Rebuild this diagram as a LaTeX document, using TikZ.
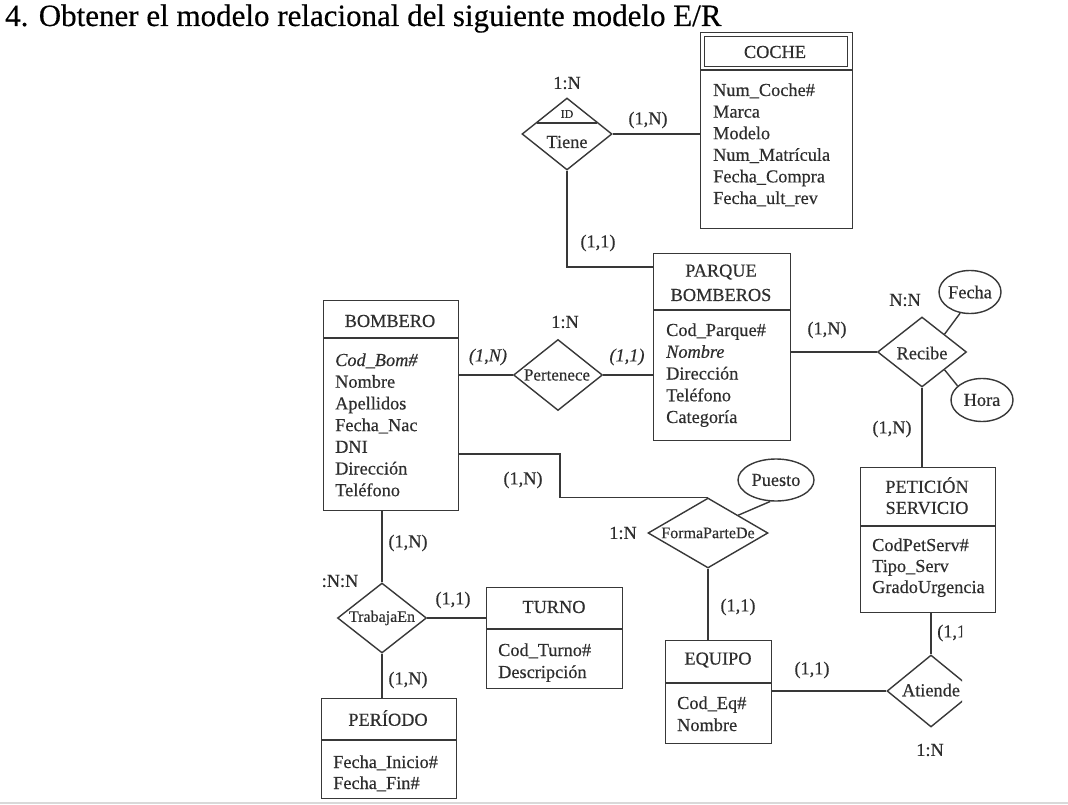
\documentclass[tikz,border=0pt]{standalone}
\usepackage{fontspec}
\setmainfont{Liberation Serif}[FakeBold=0.4]
\usetikzlibrary{shapes.geometric}
\begin{document}
\begin{tikzpicture}[x=1pt,y=-1pt,
  line/.style={draw=black!78, line width=1.4pt},
  ebox/.style={line, rectangle, inner sep=0pt, anchor=north west},
  rel/.style={line, diamond, inner sep=0pt},
  attel/.style={line, ellipse, inner sep=0pt},
  txt/.style={text=black!82, inner sep=0pt, font=\fontsize{18.3}{21.6}\selectfont},
  small/.style={txt, font=\fontsize{16}{19}\selectfont},
  attr/.style={txt, anchor=base west},
]
\useasboundingbox (0,0) rectangle (1068,805);
\fill[white] (0,0) rectangle (1068,805);

% title
\node[txt, text=black, anchor=base west, font=\fontsize{31}{36}\selectfont] (title) at (5,26)
  {4. Obtener el modelo relacional del siguiente modelo E/R};

% ---------------- COCHE
\node[ebox, minimum width=152pt, minimum height=196pt] (coche) at (700,32) {};
\node[ebox, minimum width=143pt, minimum height=30pt] (coche-h) at (704,36) {};
\draw[line] (coche.west |- 0,70) -- (coche.east |- 0,70);
\node[txt] (coche-t) at (775,52) {COCHE};
\foreach \t [count=\i from 0] in {Num\_Coche\#, Marca, Modelo, Num\_Matrícula, Fecha\_Compra, Fecha\_ult\_rev}
  \node[attr] (coche-a\i) at (713,96+21.6*\i) {\t};

% ---------------- Tiene
\node[rel, minimum width=90pt, minimum height=72pt] (tiene) at (567,134) {};
\draw[line] (536.6,123) -- (597.4,123);
\node[txt, font=\fontsize{12}{14}\selectfont] (tiene-id) at (567,114) {ID};
\node[txt] (tiene-t) at (567,142) {Tiene};
\node[txt] (tiene-card) at (567,83) {1:N};
\node[txt] (l-tc) at (648,120) {(1,N)};
\node[txt] (l-tp) at (598,243) {(1,1)};

% ---------------- PARQUE BOMBEROS
\node[ebox, minimum width=137pt, minimum height=187pt] (parque) at (653,253) {};
\draw[line] (parque.west |- 0,310) -- (parque.east |- 0,310);
\node[txt] (parque-t1) at (721,272) {PARQUE};
\node[txt] (parque-t2) at (721,295) {BOMBEROS};
\foreach \t [count=\i from 0] in {Cod\_Parque\#, \textit{Nombre}, Dirección, Teléfono, Categoría}
  \node[attr] (parque-a\i) at (666,336+21.75*\i) {\t};

% ---------------- Recibe
\node[rel, minimum width=89pt, minimum height=70pt] (recibe) at (922,352) {};
\node[txt] (recibe-t) at (922,353) {Recibe};
\node[txt] (recibe-card) at (905,300) {N:N};
\node[attel, minimum width=62pt, minimum height=43pt] (fecha) at (970,292) {};
\node[txt] (fecha-t) at (970,292) {Fecha};
\node[attel, minimum width=62pt, minimum height=43pt] (hora) at (982,400) {};
\node[txt] (hora-t) at (982,400) {Hora};
\node[txt] (l-pr) at (827,330) {(1,N)};
\node[txt] (l-rp) at (892,429) {(1,N)};

% ---------------- PETICION SERVICIO
\node[ebox, minimum width=135pt, minimum height=145pt] (peticion) at (860,467) {};
\draw[line] (peticion.west |- 0,526) -- (peticion.east |- 0,526);
\node[txt] (peticion-t1) at (927,485) {PETICIÓN};
\node[txt] (peticion-t2) at (927,508) {SERVICIO};
\foreach \t [count=\i from 0] in {CodPetServ\#, Tipo\_Serv, GradoUrgencia}
  \node[attr] (peticion-a\i) at (872,551+21*\i) {\t};

% ---------------- BOMBERO
\node[ebox, minimum width=135pt, minimum height=210pt] (bombero) at (323,300) {};
\draw[line] (bombero.west |- 0,338) -- (bombero.east |- 0,338);
\node[txt] (bombero-t) at (390,321) {BOMBERO};
\foreach \t [count=\i from 0] in {\textit{Cod\_Bom\#}, Nombre, Apellidos, Fecha\_Nac, DNI, Dirección, Teléfono}
  \node[attr] (bombero-a\i) at (335,366+21.7*\i) {\t};

% ---------------- Pertenece
\node[rel, minimum width=89pt, minimum height=71pt] (pert) at (558,375) {};
\node[txt, font=\fontsize{17}{20}\selectfont] (pert-t) at (557,375) {Pertenece};
\node[txt] (pert-card) at (565,322) {1:N};
\node[txt] (l-bp) at (488,357) {\textit{(1,N)}};
\node[txt] (l-pp) at (627,357) {\textit{(1,1)}};

% ---------------- FormaParteDe
\node[rel, minimum width=120pt, minimum height=70pt] (fpd) at (708,533) {};
\node[small] (fpd-t) at (708,533) {FormaParteDe};
\node[txt] (fpd-card) at (623,533) {1:N};
\node[attel, minimum width=76pt, minimum height=42pt] (puesto) at (776,480) {};
\node[txt] (puesto-t) at (776,480) {Puesto};
\node[txt] (l-bf) at (523,480) {(1,N)};
\node[txt] (l-fe) at (738,607) {(1,1)};

% ---------------- EQUIPO
\node[ebox, minimum width=106pt, minimum height=103pt] (equipo) at (665,640) {};
\draw[line] (equipo.west |- 0,683) -- (equipo.east |- 0,683);
\node[txt] (equipo-t) at (718,660) {EQUIPO};
\foreach \t [count=\i from 0] in {Cod\_Eq\#, Nombre}
  \node[attr] (equipo-a\i) at (677,709+22*\i) {\t};

% ---------------- Atiende (cut at the page edge)
\begin{scope}
  \clip (0,0) rectangle (962,805);
  \node[rel, minimum width=88pt, minimum height=72pt] (atiende) at (931,691) {};
  \node[txt] (atiende-t) at (931,690) {Atiende};
  \node[txt, anchor=west] (l-pa) at (937,633) {(1,1)};
\end{scope}
\node[txt] (atiende-card) at (930,750) {1:N};
\node[txt] (l-ea) at (812,670) {(1,1)};

% ---------------- TrabajaEn
\node[rel, minimum width=89pt, minimum height=70pt] (trab) at (382,618) {};
\node[small] (trab-t) at (382,618) {TrabajaEn};
\node[txt] (trab-card) at (340,581) {:N:N};
\node[txt] (l-bt) at (408,543) {(1,N)};
\node[txt] (l-tt) at (453,600) {(1,1)};
\node[txt] (l-tpe) at (408,680) {(1,N)};

% ---------------- TURNO
\node[ebox, minimum width=136pt, minimum height=101pt] (turno) at (486,587) {};
\draw[line] (turno.west |- 0,629) -- (turno.east |- 0,629);
\node[txt] (turno-t) at (554,607) {TURNO};
\foreach \t [count=\i from 0] in {Cod\_Turno\#, Descripción}
  \node[attr] (turno-a\i) at (498,656+22*\i) {\t};

% ---------------- PERIODO
\node[ebox, minimum width=135pt, minimum height=100pt] (periodo) at (321,698) {};
\draw[line] (periodo.west |- 0,740) -- (periodo.east |- 0,740);
\node[txt] (periodo-t) at (388,718) {PERÍODO};
\foreach \t [count=\i from 0] in {Fecha\_Inicio\#, Fecha\_Fin\#}
  \node[attr] (periodo-a\i) at (333,768+21*\i) {\t};

% ---------------- connectors
\draw[line] (tiene.east) -- (tiene.east -| coche.west);
\draw[line] (tiene.south) |- ([yshift=-14pt]parque.north west);
\draw[line] (recibe.west -| parque.east) -- (recibe.west);
\draw[line] (recibe.north east) -- (fecha.245);
\draw[line] (recibe.south east) -- (hora.150);
\draw[line] (recibe.south) -- (recibe.south |- peticion.north);
\draw[line] (pert.west -| bombero.east) -- (pert.west);
\draw[line] (pert.east) -- (pert.east -| parque.west);
\draw[line] (bombero.east |- 0,454) -- (560,454) |- (fpd.north);
\draw[line] (fpd.north east) -- (puesto.255);
\draw[line] (fpd.south) -- (fpd.south |- equipo.north);
\draw[line] (atiende.west -| equipo.east) -- (atiende.west);
\draw[line] (atiende.north) -- (atiende.north |- peticion.south);
\draw[line] (trab.north) -- (trab.north |- bombero.south);
\draw[line] (trab.east) -- (trab.east -| turno.west);
\draw[line] (trab.south) -- (trab.south |- periodo.north);

% bottom edge of the page
\draw[black!15, line width=2pt] (0,803) -- (1068,803);
\end{tikzpicture}
\end{document}
